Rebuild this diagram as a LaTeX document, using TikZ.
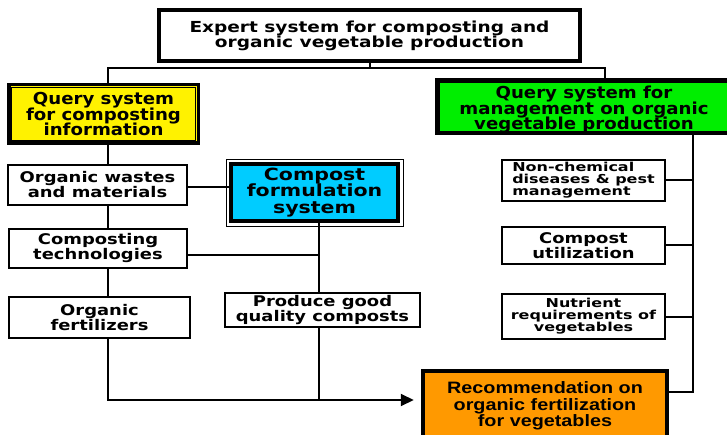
\documentclass[tikz,border=0pt]{standalone}
\usepackage{fontspec}
\setmainfont{DejaVu Sans}
\newfontfamily\wf[FakeStretch=1.22]{DejaVu Sans}
\newfontfamily\wq[FakeStretch=1.1]{DejaVu Sans}
\newfontfamily\ws[FakeStretch=1.3]{DejaVu Sans}
\newfontfamily\af[FakeStretch=1.2]{Liberation Sans}
\usetikzlibrary{arrows.meta}
\setlength{\lineskiplimit}{-20pt}
\begin{document}
\setlength{\lineskiplimit}{-20pt}
\begin{tikzpicture}[x=1pt,y=-1pt,
  box/.style={draw=black, line width=2pt, fill=white, align=center, inner sep=0pt, text=black},
  con/.style={draw=black, line width=2pt},
  ftop/.style={font={\wf\bfseries\fontsize{15.2}{15}\selectfont}},
  fq/.style={font={\wq\bfseries\fontsize{16.5}{15.5}\selectfont}},
  fcfs/.style={font={\wf\bfseries\fontsize{16.8}{16.5}\selectfont}},
  fmid/.style={font={\wf\bfseries\fontsize{14.7}{15}\selectfont}},
  fsml/.style={font={\ws\bfseries\fontsize{12.3}{12}\selectfont}},
  frec/.style={font={\af\bfseries\fontsize{16.5}{16.5}\selectfont}},
  inner/.style={draw=black, line width=0.7pt}
]
\useasboundingbox (0,0) rectangle (727,435);
\fill[white] (0,0) rectangle (727,435);
% coordinates
\coordinate (ax) at (108,0);
\coordinate (bx) at (605,0);
\coordinate (cx) at (319,0);
\coordinate (dx) at (693,0);
\coordinate (bus) at (0,68);
\coordinate (cy) at (0,255);
\coordinate (ay) at (0,400);
\coordinate (ey) at (0,392);
% nodes
\node[box, line width=4pt, minimum width=421pt, minimum height=51pt, ftop] (top) at (369.5,35.5)
  {Expert system for composting and\\organic vegetable production};
\node[box, line width=3.5pt, fill=yellow, minimum width=189.5pt, minimum height=58.5pt, fq] (q1) at (103.5,114)
  {Query system\\for composting\\information};
\draw[inner] ([xshift=4.3pt,yshift=4.3pt]q1.south west) rectangle ([xshift=-4.3pt,yshift=-4.3pt]q1.north east);
\node[box, line width=3.5pt, fill={rgb,255:red,0;green,238;blue,0}, minimum width=294.5pt, minimum height=53.5pt, fq] (q2) at (584,107)
  {\rule{0pt}{18.5pt}Query system for\\management on organic\\vegetable production};
\draw[inner] ([xshift=4.3pt,yshift=4.3pt]q2.south west) rectangle ([xshift=-4.3pt,yshift=-4.3pt]q2.north east);
\node[box, minimum width=179pt, minimum height=40pt, fmid] (wastes) at (97.5,185)
  {Organic wastes\\and materials};
\node[box, minimum width=178pt, minimum height=39pt, fmid] (tech) at (98,248.5)
  {Composting\\technologies};
\node[box, minimum width=181pt, minimum height=41pt, fmid] (fert) at (99.5,317.5)
  {Organic\\fertilizers};
\draw[line width=0.8pt] (226,159) rectangle (403,226);
\node[box, line width=3pt, fill={rgb,255:red,0;green,204;blue,255}, minimum width=168pt, minimum height=58pt, fcfs] (cfs) at (314.5,192.5)
  {Compost\\formulation\\system};
\draw[inner] ([xshift=3.3pt,yshift=3.3pt]cfs.south west) rectangle ([xshift=-3.3pt,yshift=-3.3pt]cfs.north east);
\node[box, minimum width=195pt, minimum height=34pt, fmid] (produce) at (322.5,310)
  {Produce good\\quality composts};
\node[box, minimum width=163pt, minimum height=41pt, fsml, align=left] (nonchem) at (583.5,180.5)
  {Non-chemical\\diseases \& pest\\management};
\node[box, minimum width=163pt, minimum height=37pt, fmid] (util) at (583.5,245.5)
  {Compost\\utilization};
\node[box, minimum width=163pt, minimum height=45pt, fsml] (nutr) at (583.5,316.5)
  {Nutrient\\requirements of\\vegetables};
\node[box, line width=4.5pt, fill={rgb,255:red,255;green,153;blue,0}, minimum width=244pt, minimum height=70pt, frec] (rec) at (545,406)
  {Recommendation on\\organic fertilization\\for vegetables};
% connectors
\draw[con] (top.south) -- (top.south |- bus);
\draw[con] (q1.north -| ax) |- (bx |- bus) -- (q2.north -| bx);
\draw[con] (q1.south -| ax) -- (wastes.north -| ax);
\draw[con] ([yshift=-2pt]wastes.east) -- ([yshift=-2pt]wastes.east -| cfs.west);
\draw[con] (wastes.south -| ax) -- (tech.north -| ax);
\draw[con] (tech.south -| ax) -- (fert.north -| ax);
\draw[con] (cfs.south -| cx) -- (produce.north -| cx);
\draw[con] (tech.east |- cy) -- (cx |- cy);
\draw[con] (produce.south -| cx) -- (cx |- ay);
\draw[con, -{Triangle[length=13pt,width=12pt]}, shorten >=7pt] (fert.south -| ax) |- (rec.west |- ay);
\draw[con] (q2.south -| dx) -- (dx |- ey) -- (rec.east |- ey);
\draw[con] (nonchem.east) -- (nonchem.east -| dx);
\draw[con] (util.east) -- (util.east -| dx);
\draw[con] (nutr.east) -- (nutr.east -| dx);
\end{tikzpicture}
\end{document}
